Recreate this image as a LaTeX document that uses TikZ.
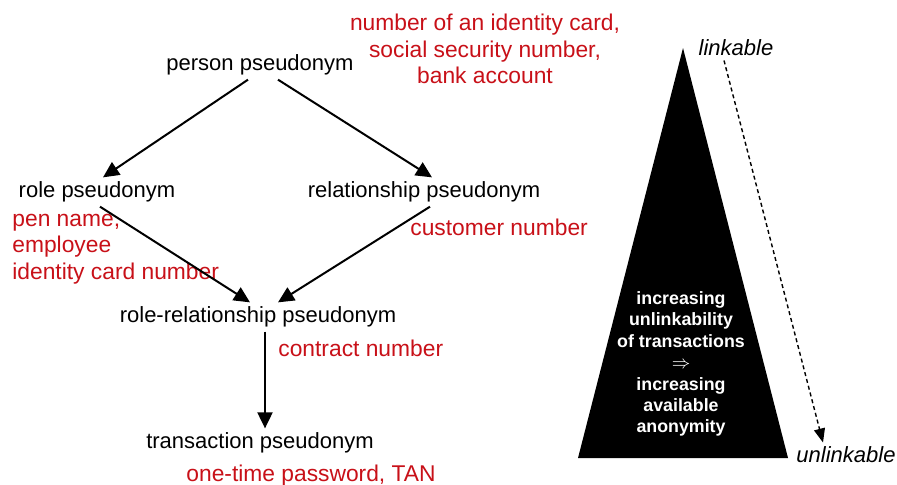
\documentclass[tikz,border=0pt]{standalone}
\usepackage{fontspec}
\setmainfont{Liberation Sans}
\usetikzlibrary{arrows.meta}
\definecolor{notered}{RGB}{200,16,24}

\begin{document}
\begin{tikzpicture}[x=0.5pt,y=-0.5pt,
	pseud/.style={font=\fontsize{11}{13}\selectfont,inner sep=2pt},
	example/.style={font=\fontsize{11.4}{13.2}\selectfont,text=notered,inner sep=0pt},
	inside/.style={font=\fontsize{8.9}{10.7}\selectfont\bfseries,text=white,align=center},
	derive/.style={line width=1pt,arrows={-Triangle[length=8pt,width=7.5pt]}},
	order/.style={line width=0.7pt,dash pattern=on 2pt off 1.5pt,arrows={-Triangle[length=7pt,width=5.5pt]}}]
	\useasboundingbox (0,0) rectangle (897,484);

	\node [pseud] (person) at (260,65) {person pseudonym};
	\node [pseud] (role) at (97,192) {role pseudonym};
	\node [pseud] (relation) at (424,192) {relationship pseudonym};
	\node [pseud] (rolerel) at (258,317) {role-relationship pseudonym};
	\node [pseud] (trans) at (260,443) {transaction pseudonym};

	\node [example,align=center] (personex) at (485,49) {number of an identity card,\\social security number,\\bank account};
	\node [example,align=left,anchor=west] (roleex) at (12,249) {pen name,\\employee\\identity card number};
	\node [example,anchor=west] (relationex) at (410,227) {customer number};
	\node [example,anchor=west] (rolerelex) at (278,348) {contract number};
	\node [example,anchor=west] (transex) at (186,476) {one-time password, TAN};

	\draw [derive] ([xshift=-6pt]person.south) -- ([xshift=3pt]role.north);
	\draw [derive] ([xshift=9pt]person.south) -- ([xshift=4pt]relation.north);
	\draw [derive] ([xshift=1.5pt]role.south) -- ([xshift=-4pt]rolerel.north);
	\draw [derive] ([xshift=3pt]relation.south) -- ([xshift=10pt]rolerel.north);
	\draw [derive] ([xshift=3.5pt]rolerel.south) -- ([xshift=3.5pt]rolerel.south |- trans.north);

	\fill (683,48) -- (788,458) -- (578,458) -- cycle;
	\node [inside] (increase) at (681,364) {increasing\\unlinkability\\of transactions\\$\Rightarrow$\\increasing\\available\\anonymity};

	\node [pseud,font=\fontsize{11}{13}\selectfont\itshape] (linkable) at (736,48) {linkable};
	\node [pseud,font=\fontsize{11}{13}\selectfont\itshape] (unlinkable) at (846,455) {unlinkable};
	\draw [order] ([xshift=-6pt]linkable.south) -- ([xshift=-11.5pt]unlinkable.north);
\end{tikzpicture}
\end{document}
